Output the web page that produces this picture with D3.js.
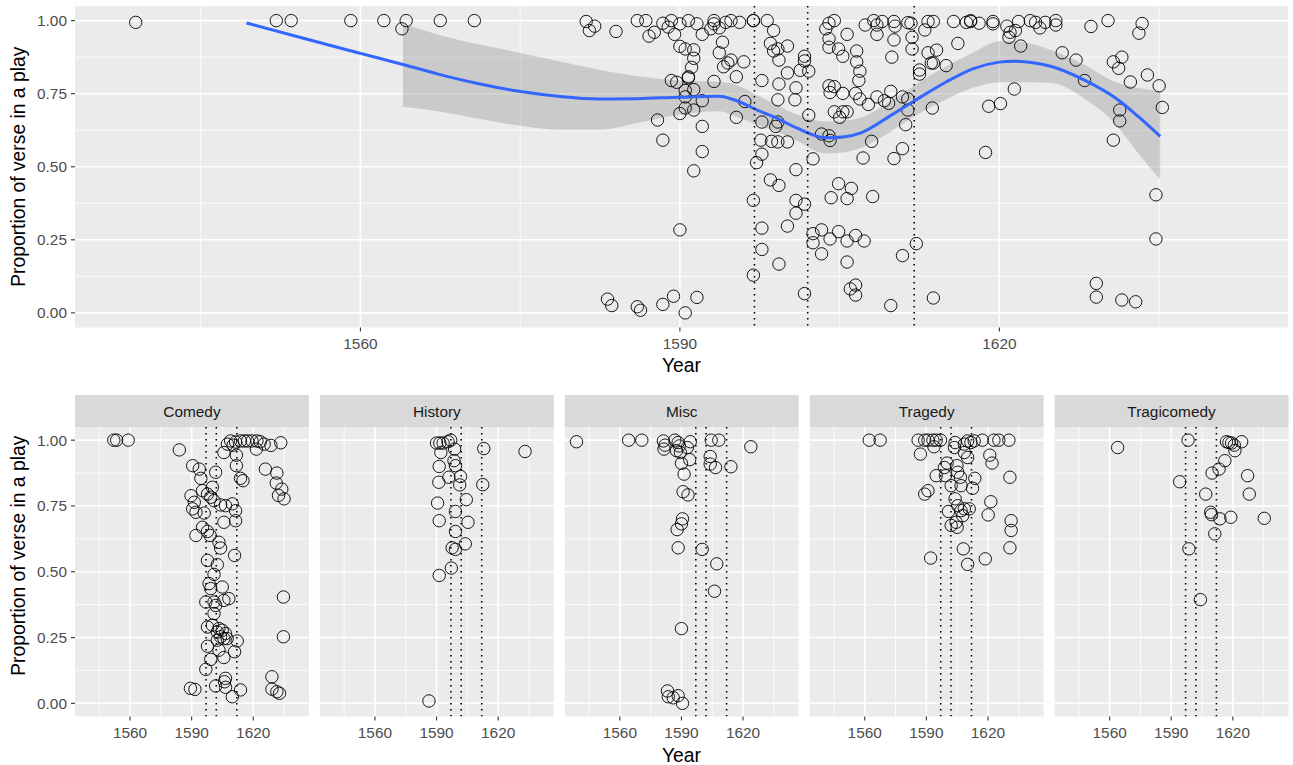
<!DOCTYPE html>
<html>
<head>
<meta charset="utf-8">
<script src="https://cdn.jsdelivr.net/npm/d3@7"></script>
<style>
  body { margin: 0; background: #fff; }
  svg { display: block; font-family: 'Liberation Sans', Arial, sans-serif; }
</style>
</head>
<body>
<div id="chart"></div>
<script>
const width = 1293;
const height = 765;

// genres shown in the facet row
const genres = ['Comedy', 'History', 'Misc', 'Tragedy', 'Tragicomedy'];

// [year, proportion of verse]
const comedyPlays = [
    [1552.1, 1.0], [1553.5, 1.0], [1559.1, 1.0], [1584.0, 0.963],
    [1607.4, 0.985], [1609.0, 0.997], [1611.4, 0.993], [1613.8, 0.997], [1615.7, 0.997],
    [1617.3, 0.997], [1619.4, 0.997], [1621.8, 0.997], [1623.4, 0.994], [1605.7, 0.953],
    [1610.2, 0.981], [1611.8, 0.943], [1621.5, 0.966], [1625.3, 0.985], [1628.6, 0.98],
    [1633.4, 0.99], [1625.9, 0.89], [1631.5, 0.875], [1631.2, 0.837], [1633.9, 0.814],
    [1632.3, 0.79], [1635.0, 0.777],
    [1611.8, 0.903], [1613.8, 0.855], [1615.0, 0.846],
    [1590.5, 0.903], [1593.7, 0.89], [1594.5, 0.855], [1601.7, 0.878],
    [1589.7, 0.789], [1591.3, 0.764], [1590.5, 0.739], [1592.1, 0.726], [1596.1, 0.723],
    [1595.3, 0.808], [1597.7, 0.795], [1599.3, 0.783], [1600.1, 0.821], [1600.9, 0.77],
    [1604.1, 0.754], [1606.5, 0.751], [1609.8, 0.758], [1611.4, 0.732], [1611.4, 0.694],
    [1605.7, 0.688],
    [1595.3, 0.669], [1592.1, 0.638], [1597.7, 0.653], [1599.0, 0.638], [1603.3, 0.612],
    [1604.1, 0.59], [1610.9, 0.562], [1597.7, 0.543], [1602.5, 0.527], [1600.9, 0.49],
    [1598.5, 0.455], [1599.3, 0.436], [1604.9, 0.442], [1596.9, 0.385], [1600.9, 0.385],
    [1601.7, 0.372], [1605.7, 0.391], [1608.1, 0.398], [1600.9, 0.341], [1597.7, 0.29],
    [1600.1, 0.297], [1603.3, 0.284], [1602.5, 0.271], [1604.9, 0.278], [1606.5, 0.265],
    [1604.1, 0.253], [1605.7, 0.246], [1602.5, 0.24], [1607.3, 0.246], [1612.2, 0.237],
    [1597.7, 0.217], [1603.3, 0.202], [1610.9, 0.196], [1605.7, 0.174], [1599.3, 0.167],
    [1596.9, 0.129], [1606.5, 0.095], [1606.0, 0.082], [1601.7, 0.066], [1606.5, 0.061],
    [1589.4, 0.057], [1591.6, 0.053], [1609.8, 0.025], [1613.8, 0.051],
    [1634.7, 0.404], [1634.7, 0.253], [1629.1, 0.101], [1629.1, 0.054], [1631.5, 0.044],
    [1632.8, 0.038],
];

const historyPlays = [
    [1590.0, 0.989], [1591.6, 0.989], [1593.2, 0.989], [1595.6, 0.994], [1596.9, 1.0],
    [1598.8, 0.966], [1592.1, 0.953], [1613.0, 0.968], [1633.1, 0.957],
    [1598.5, 0.922], [1599.2, 0.903], [1591.3, 0.9], [1596.0, 0.859], [1601.7, 0.862],
    [1601.3, 0.83], [1591.1, 0.84], [1612.5, 0.831],
    [1604.5, 0.774], [1590.5, 0.761], [1599.2, 0.729], [1591.3, 0.694], [1605.3, 0.688],
    [1599.2, 0.653], [1604.0, 0.606], [1597.6, 0.591], [1599.2, 0.585], [1597.2, 0.514],
    [1591.3, 0.486], [1586.3, 0.009],
];

const miscPlays = [
    [1538.9, 0.994], [1564.3, 1.0], [1570.7, 1.0], [1581.2, 0.997], [1582.0, 0.981],
    [1581.5, 0.966], [1586.8, 1.0], [1588.4, 0.991], [1588.9, 0.978], [1587.6, 0.96],
    [1589.5, 0.953], [1592.9, 0.972], [1594.3, 0.994], [1604.5, 1.0], [1608.2, 1.0],
    [1594.0, 0.926], [1590.0, 0.912], [1604.0, 0.938], [1604.0, 0.909], [1606.6, 0.896],
    [1614.1, 0.899], [1623.8, 0.975], [1591.3, 0.871], [1590.8, 0.804], [1593.2, 0.792],
    [1590.5, 0.701], [1590.0, 0.682], [1587.9, 0.66], [1588.4, 0.591], [1600.1, 0.585],
    [1607.2, 0.53], [1606.1, 0.426], [1590.0, 0.284], [1583.2, 0.047], [1583.6, 0.025],
    [1586.0, 0.021], [1588.4, 0.029], [1590.5, 0.0],
];

const tragedyPlays = [
    [1562.2, 1.0], [1567.5, 1.0], [1586.0, 1.0], [1589.2, 1.0], [1590.8, 1.0],
    [1593.2, 1.0], [1594.8, 1.0], [1596.9, 1.0], [1593.7, 0.975], [1587.1, 0.947],
    [1604.0, 0.991], [1603.7, 0.972], [1608.5, 0.985], [1610.1, 0.997], [1611.7, 0.991],
    [1613.3, 0.997], [1617.3, 1.0], [1622.9, 1.0], [1625.3, 1.0], [1630.2, 1.0],
    [1608.5, 0.953], [1610.1, 0.934], [1620.9, 0.943], [1622.0, 0.913], [1630.7, 0.859],
    [1600.1, 0.913], [1598.8, 0.896], [1594.8, 0.865], [1599.3, 0.865], [1604.9, 0.903],
    [1605.3, 0.878], [1606.6, 0.859], [1613.6, 0.855], [1602.1, 0.827], [1606.9, 0.827],
    [1612.5, 0.817], [1589.2, 0.795], [1590.8, 0.808], [1621.4, 0.766], [1604.0, 0.777],
    [1605.3, 0.751], [1600.8, 0.729], [1606.9, 0.732], [1608.5, 0.739], [1610.9, 0.739],
    [1607.7, 0.713], [1620.1, 0.716], [1602.1, 0.676], [1604.5, 0.688], [1605.0, 0.669],
    [1631.3, 0.694], [1631.3, 0.657], [1630.7, 0.591], [1608.0, 0.587], [1592.1, 0.552],
    [1618.7, 0.549], [1610.1, 0.528],
];

const tragicomedyPlays = [
    [1563.9, 0.972], [1598.2, 1.0], [1616.9, 0.994], [1618.1, 0.991], [1619.4, 0.989],
    [1620.7, 0.981], [1624.3, 0.994], [1621.0, 0.96], [1616.1, 0.922], [1613.3, 0.89],
    [1609.9, 0.875], [1627.2, 0.865], [1594.1, 0.842], [1606.8, 0.795], [1628.0, 0.795],
    [1609.2, 0.726], [1609.6, 0.717], [1613.7, 0.701], [1619.0, 0.707], [1635.3, 0.703],
    [1611.2, 0.644], [1598.6, 0.587], [1604.2, 0.394],
];

const playsByGenre = [comedyPlays, historyPlays, miscPlays, tragedyPlays, tragicomedyPlays];

// dotted reference years
const markYears = [1597, 1602, 1612];

// loess fit (band is cut off before 1564)
const smoothYear = [1549.3, 1555, 1560, 1564, 1567.3, 1571, 1574.9, 1578.6, 1582.4, 1586,
    1590, 1593.7, 1595, 1597.5, 1599, 1601, 1603.7, 1605.5, 1607, 1610, 1612, 1615,
    1617.5, 1620, 1621.3, 1624.8, 1627.9, 1631.1, 1633, 1635.1];
const smoothFit = [0.992, 0.936, 0.888, 0.85, 0.817, 0.785, 0.758, 0.741, 0.732, 0.733,
    0.738, 0.741, 0.73, 0.69, 0.668, 0.632, 0.599, 0.603, 0.616, 0.68, 0.725, 0.79,
    0.835, 0.858, 0.861, 0.844, 0.798, 0.73, 0.673, 0.604];
const smoothLo = [null, null, null, 0.705, 0.69, 0.665, 0.641, 0.627, 0.627, 0.65,
    0.678, 0.69, 0.675, 0.64, 0.622, 0.588, 0.545, 0.55, 0.565, 0.625, 0.672, 0.73,
    0.77, 0.789, 0.79, 0.787, 0.735, 0.638, 0.548, 0.456];
const smoothHi = [null, null, null, 0.99, 0.952, 0.92, 0.89, 0.861, 0.832, 0.81,
    0.795, 0.79, 0.783, 0.74, 0.714, 0.678, 0.655, 0.658, 0.668, 0.73, 0.778, 0.844,
    0.89, 0.929, 0.93, 0.9, 0.85, 0.787, 0.77, 0.758];

const xTicks = [1560, 1590, 1620];
const xMinor = [1545, 1575, 1605, 1635];
const yTicks = [0, 0.25, 0.5, 0.75, 1];
const yMinor = [0.125, 0.375, 0.625, 0.875];
const yLabels = ['0.00', '0.25', '0.50', '0.75', '1.00'];

const xDomain = [1533.2, 1647.1];
const yDomain = [-0.05, 1.05];

const tickFont = '15.4px';
const titleFont = '19.3px';

const svg = d3.select('#chart')
    .append('svg')
    .attr('width', width)
    .attr('height', height)
    .style('background-color', 'white');

function drawPanel(g, w, h, points, opts) {
    const x = d3.scaleLinear().domain(xDomain).range([0, w]);
    const y = d3.scaleLinear().domain(yDomain).range([h, 0]);

    g.append('rect')
        .attr('width', w)
        .attr('height', h)
        .attr('fill', '#EBEBEB');

    // minor grid first, then major
    g.selectAll('.vminor').data(xMinor).enter().append('line')
        .attr('x1', (d) => x(d)).attr('x2', (d) => x(d))
        .attr('y1', 0).attr('y2', h)
        .attr('stroke', '#fff').attr('stroke-width', 0.8);
    g.selectAll('.hminor').data(yMinor).enter().append('line')
        .attr('x1', 0).attr('x2', w)
        .attr('y1', (d) => y(d)).attr('y2', (d) => y(d))
        .attr('stroke', '#fff').attr('stroke-width', 0.8);
    g.selectAll('.vmajor').data(xTicks).enter().append('line')
        .attr('x1', (d) => x(d)).attr('x2', (d) => x(d))
        .attr('y1', 0).attr('y2', h)
        .attr('stroke', '#fff').attr('stroke-width', 1.6);
    g.selectAll('.hmajor').data(yTicks).enter().append('line')
        .attr('x1', 0).attr('x2', w)
        .attr('y1', (d) => y(d)).attr('y2', (d) => y(d))
        .attr('stroke', '#fff').attr('stroke-width', 1.6);

    const clipId = 'clip-' + opts.id;
    g.append('clipPath').attr('id', clipId)
        .append('rect').attr('width', w).attr('height', h);
    const inner = g.append('g').attr('clip-path', `url(#${clipId})`);

    if (opts.smooth) {
        const idx = d3.range(smoothYear.length);
        const band = d3.area()
            .defined((i) => smoothLo[i] !== null)
            .x((i) => x(smoothYear[i]))
            .y0((i) => y(smoothLo[i]))
            .y1((i) => y(smoothHi[i]))
            .curve(d3.curveMonotoneX);
        inner.append('path')
            .attr('d', band(idx))
            .attr('fill', '#999999')
            .attr('fill-opacity', 0.4);
    }

    inner.selectAll('circle')
        .data(points)
        .enter()
        .append('circle')
        .attr('cx', (d) => x(d[0]))
        .attr('cy', (d) => y(d[1]))
        .attr('r', 6.2)
        .attr('fill', 'none')
        .attr('stroke', '#000')
        .attr('stroke-width', 0.9);

    if (opts.smooth) {
        const idx = d3.range(smoothYear.length);
        const fitLine = d3.line()
            .x((i) => x(smoothYear[i]))
            .y((i) => y(smoothFit[i]))
            .curve(d3.curveMonotoneX);
        inner.append('path')
            .attr('d', fitLine(idx))
            .attr('fill', 'none')
            .attr('stroke', '#3366FF')
            .attr('stroke-width', 3);
    }

    inner.selectAll('.mark')
        .data(markYears)
        .enter()
        .append('line')
        .attr('x1', (d) => x(d)).attr('x2', (d) => x(d))
        .attr('y1', 0).attr('y2', h)
        .attr('stroke', '#000')
        .attr('stroke-width', 1.6)
        .attr('stroke-dasharray', '1.6 4.4');

    // x axis
    const xa = g.append('g').attr('transform', `translate(0,${h})`);
    xa.selectAll('line').data(xTicks).enter().append('line')
        .attr('x1', (d) => x(d)).attr('x2', (d) => x(d))
        .attr('y1', 0).attr('y2', 4)
        .attr('stroke', '#333').attr('stroke-width', 1.1);
    xa.selectAll('text').data(xTicks).enter().append('text')
        .attr('x', (d) => x(d))
        .attr('y', opts.xLabelY)
        .attr('text-anchor', 'middle')
        .attr('font-size', tickFont)
        .attr('fill', '#4D4D4D')
        .text((d) => d);

    if (opts.yAxis) {
        const ya = g.append('g');
        ya.selectAll('line').data(yTicks).enter().append('line')
            .attr('x1', -4).attr('x2', 0)
            .attr('y1', (d) => y(d)).attr('y2', (d) => y(d))
            .attr('stroke', '#333').attr('stroke-width', 1.1);
        ya.selectAll('text').data(yTicks).enter().append('text')
            .attr('x', -8)
            .attr('y', (d) => y(d) + 5.5)
            .attr('text-anchor', 'end')
            .attr('font-size', tickFont)
            .attr('fill', '#4D4D4D')
            .text((d, i) => yLabels[i]);
    }
}

// top panel: all plays together
const allPlays = [].concat(...playsByGenre);
const panelLeft = 75;
const panelRight = 1288;
const topPanel = svg.append('g').attr('transform', `translate(${panelLeft},6)`);
drawPanel(topPanel, panelRight - panelLeft, 321.5, allPlays, {
    id: 'all', smooth: true, yAxis: true, xLabelY: 21.5,
});

svg.append('text')
    .attr('x', (panelLeft + panelRight) / 2)
    .attr('y', 371.5)
    .attr('text-anchor', 'middle')
    .attr('font-size', titleFont)
    .attr('fill', '#000')
    .text('Year');

svg.append('text')
    .attr('transform', `translate(25,${6 + 321.5 / 2}) rotate(-90)`)
    .attr('text-anchor', 'middle')
    .attr('font-size', titleFont)
    .attr('fill', '#000')
    .text('Proportion of verse in a play');

// facet row
const facetW = 233.9;
const facetGap = 11;
const stripTop = 395;
const stripH = 32;
const facetH = 289.5;

genres.forEach((genre, i) => {
    const gx = panelLeft + i * (facetW + facetGap);
    svg.append('rect')
        .attr('x', gx).attr('y', stripTop)
        .attr('width', facetW).attr('height', stripH)
        .attr('fill', '#D9D9D9');
    svg.append('text')
        .attr('x', gx + facetW / 2)
        .attr('y', stripTop + 22)
        .attr('text-anchor', 'middle')
        .attr('font-size', tickFont)
        .attr('fill', '#1A1A1A')
        .text(genre);

    const g = svg.append('g').attr('transform', `translate(${gx},${stripTop + stripH})`);
    drawPanel(g, facetW, facetH, playsByGenre[i], {
        id: 'f' + i, smooth: false, yAxis: i === 0, xLabelY: 21.5,
    });
});

svg.append('text')
    .attr('x', (panelLeft + panelRight) / 2)
    .attr('y', 761.5)
    .attr('text-anchor', 'middle')
    .attr('font-size', titleFont)
    .attr('fill', '#000')
    .text('Year');

svg.append('text')
    .attr('transform', `translate(25,${stripTop + (stripH + facetH) / 2}) rotate(-90)`)
    .attr('text-anchor', 'middle')
    .attr('font-size', titleFont)
    .attr('fill', '#000')
    .text('Proportion of verse in a play');
</script>
</body>
</html>
